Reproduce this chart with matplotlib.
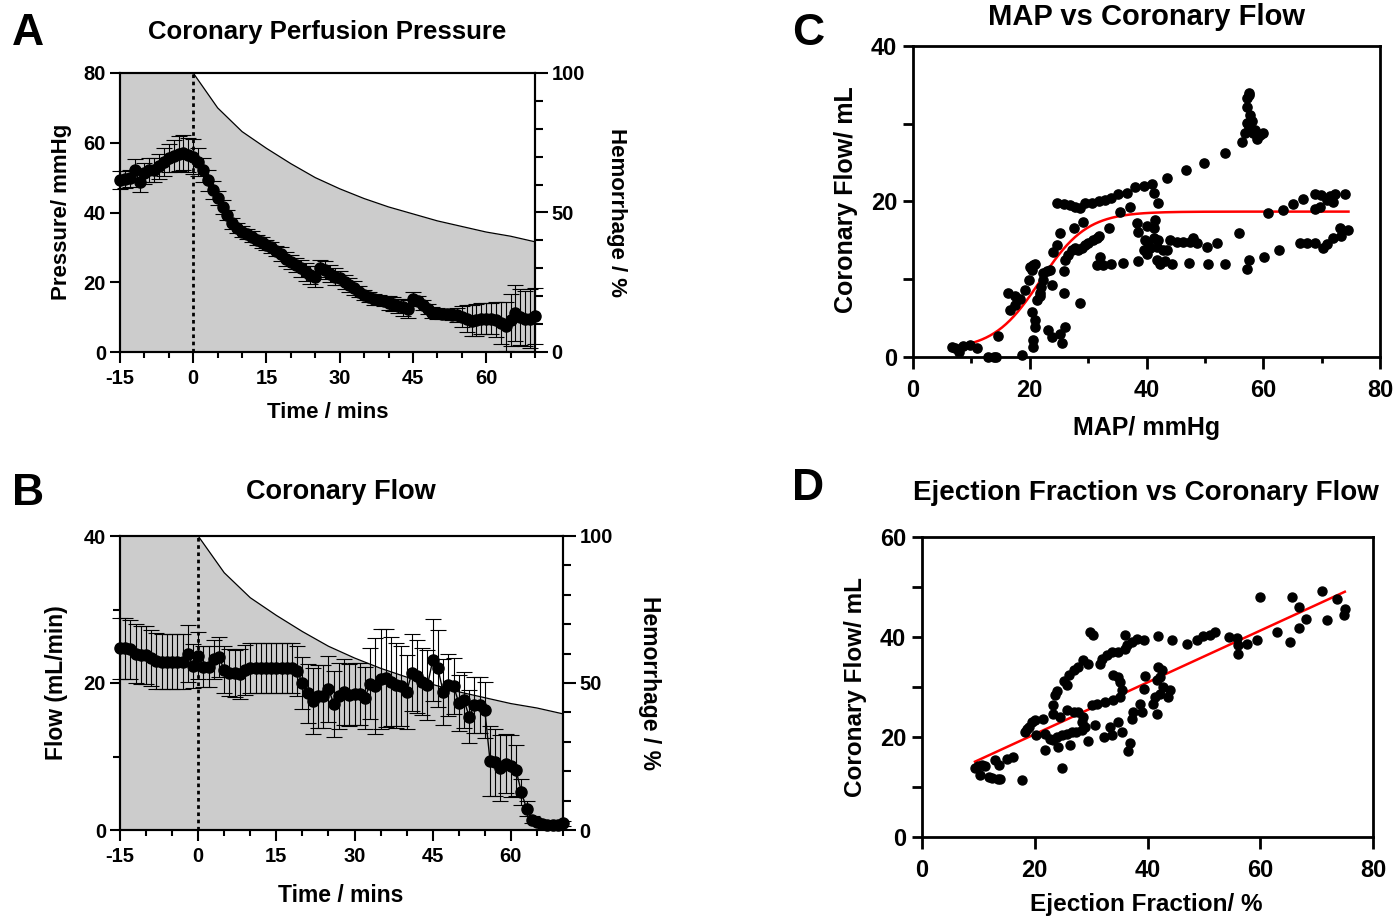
import numpy as np
import matplotlib
matplotlib.use("Agg")
import matplotlib.pyplot as plt
from matplotlib.ticker import MultipleLocator

plt.rcParams['font.family'] = ['Liberation Sans', 'DejaVu Sans']
plt.rcParams['font.weight'] = 'bold'
plt.rcParams['axes.linewidth'] = 1.5
plt.rcParams['axes.unicode_minus'] = False

# ---- data -------------------------------------------------------------
time_min = np.arange(-15, 71)

cpp_mean = [49.3, 49.5, 49.8, 52.2, 48.8, 51.3, 52.2, 52.2, 53.2, 54.6, 55.5, 56.2, 56.9, 57.1, 56.5, 56.0,
            54.6, 52.2, 49.3, 46.4, 44.1, 41.7, 39.3, 36.9, 35.5, 34.5,
            33.8, 33.1, 32.1, 31.4, 30.7, 30.0, 29.0, 28.0, 26.8, 25.9,
            24.9, 24.0, 23.0, 22.1, 21.6, 24.0, 23.5, 22.5, 21.6, 21.1,
            20.2, 19.2, 18.3, 17.3, 16.4, 15.7, 15.1, 14.9, 14.7, 14.1,
            13.8, 13.2, 12.8, 12.3, 15.1, 14.7, 13.5, 12.3, 11.3, 11.1,
            10.9, 10.9, 10.6, 10.6, 10.1, 9.6, 9.0, 9.2, 9.6, 9.6,
            9.6, 9.2, 8.2, 7.4, 9.2, 11.1, 10.1, 9.6, 9.6, 10.3]
cpp_err = [2.5, 2.5, 2.5, 3, 3, 3, 3.5, 3.5, 3.5, 4, 4, 4.5, 5, 5, 5, 5,
           4, 3.5, 3, 2.5, 2, 2, 1.5, 1.5, 1.5, 1.5,
           1.5, 1.5, 1.5, 1.5, 1.5, 1.5, 1.5, 2, 2, 2,
           2, 2.5, 2.5, 2.5, 3, 2.5, 2.5, 2.5, 2.5, 2,
           2, 2, 2, 1.5, 1.5, 1.5, 1.5, 1.5, 1.5, 2,
           2, 2, 2.5, 2.5, 2, 1.5, 1.5, 1.5, 1.5, 1.5,
           1.5, 1.5, 1.5, 2, 3, 4, 4.5, 4.5, 4.5, 4.5,
           4.5, 5, 6, 7, 7.5, 8, 8, 8, 8.5, 8]

flow_mean = [24.7, 24.7, 24.6, 24.0, 23.8, 23.8, 23.4, 23.0, 22.9, 22.9, 22.9, 22.9, 22.9, 24.0, 22.3, 23.7,
             22.2, 22.2, 23.2, 23.5, 21.8, 21.4, 21.3, 21.2, 21.8, 22.0,
             22.0, 22.0, 22.0, 22.0, 22.0, 22.0, 22.0, 22.0, 21.6, 20.0,
             18.6, 17.5, 18.2, 18.2, 19.2, 17.2, 18.2, 18.8, 18.4, 18.5,
             18.5, 18.0, 19.9, 19.6, 20.6, 20.7, 20.2, 19.7, 19.6, 18.8,
             21.4, 20.9, 20.2, 19.7, 23.1, 22.0, 18.8, 19.7, 19.6, 17.3,
             17.7, 15.4, 17.0, 17.0, 16.3, 9.4, 9.2, 8.4, 9.0, 8.7,
             8.1, 5.2, 2.9, 1.4, 1.1, 0.8, 0.7, 0.7, 0.7, 0.9]
flow_err = [4.2, 4.2, 4.0, 4.0, 3.9, 3.9, 3.8, 3.8, 3.7, 3.7, 3.7, 3.7, 3.7, 3.9, 3.0, 3.2,
            2.8, 2.8, 2.7, 2.7, 3.2, 3.2, 3.2, 3.4, 3.4, 3.4,
            3.4, 3.4, 3.4, 3.4, 3.4, 3.4, 3.4, 3.4, 3.4, 3.6,
            4.0, 4.5, 4.3, 4.3, 4.5, 4.5, 4.5, 4.5, 4.2, 4.2,
            4.2, 4.2, 4.8, 6.5, 6.8, 6.7, 6.0, 5.8, 5.5, 5.0,
            5.2, 5.0, 4.5, 4.8, 5.6, 5.2, 4.5, 4.2, 3.8, 3.8,
            3.8, 3.6, 3.8, 3.8, 3.8, 4.8, 4.6, 4.5, 4.0, 4.2,
            3.5, 1.8, 1.0, 0.5, 0.4, 0.3, 0.3, 0.3, 0.3, 0.3]

hem_time = [-15, 0, 5, 10, 15, 20, 25, 30, 35, 40, 45, 50, 55, 60, 65, 70]
hem_pct = [100, 100, 87.5, 79, 73, 67.5, 62.5, 58.5, 55, 52, 49.5, 47, 45, 43, 41.5, 39.5]

map_x = [6.6, 7.2, 7.8, 8.6, 9.8, 10.9, 12.9, 13.8, 14.3, 14.5, 18.6, 16.3, 17.5, 18.3, 16.6, 17.5,
         19.2, 19.8, 20.3, 20.6, 20.1, 20.9, 20.3, 20.9, 20.9, 20.6, 20.6, 21.8, 22.0, 22.3, 22.3,
         22.9, 23.5, 23.8, 21.2, 21.8, 23.2, 23.8, 25.2, 25.5, 26.0, 25.8, 25.8, 24.0, 24.6, 25.2,
         26.0, 26.6, 27.2, 27.8, 28.3, 28.9, 29.5, 30.0, 30.9, 31.5, 31.8, 27.5, 29.1, 28.6,
         24.6, 25.8, 26.9, 27.8, 28.6, 29.5, 30.6, 31.8, 32.9, 34.0, 35.2, 36.6, 38.0, 39.5, 40.9,
         41.2, 42.0, 43.5, 46.8, 49.9, 53.5, 56.3,
         56.9, 57.2, 57.2, 57.2, 57.5, 57.6, 57.7, 58.0, 57.5, 58.3, 58.9, 59.5, 60.0, 58.6,
         32.0, 32.6, 31.5, 34.0, 36.0, 38.6, 33.5, 35.5, 37.2, 38.3, 38.6, 40.0, 41.2, 41.5,
         39.8, 40.3, 41.2, 41.8, 39.5, 40.0, 40.6, 42.0, 42.9, 43.5, 41.8, 42.3, 43.2, 44.3,
         47.2, 50.6, 53.5, 44.0, 45.2, 46.3, 47.5, 48.6, 48.0, 50.4, 52.0, 55.9, 57.5, 57.2,
         60.2, 62.7, 60.8, 63.3, 65.1, 66.8, 68.9, 69.9, 71.5, 72.3, 74.0, 70.9, 72.0, 68.9, 69.7,
         66.3, 67.5, 68.9, 70.3, 70.9, 72.0, 73.2, 74.6, 73.4]
cflow_y = [1.3, 1.1, 0.7, 1.4, 1.5, 1.2, 0.0, 0.0, 0.0, 2.7, 0.3, 8.2, 7.8, 7.5, 6.0, 6.7,
           8.6, 9.9, 11.2, 11.8, 11.6, 12.0, 5.8, 4.8, 3.9, 2.2, 1.3, 8.2, 9.0, 9.9, 10.8,
           11.0, 11.2, 9.3, 7.3, 7.8, 3.5, 2.6, 3.0, 1.8, 3.9, 8.2, 11.0, 13.5, 14.4, 15.9,
           12.5, 13.1, 13.8, 14.0, 13.8, 14.0, 14.4, 14.6, 15.0, 15.3, 15.5, 16.6, 17.4, 6.9,
           19.8, 19.7, 19.5, 19.3, 19.1, 19.8, 19.8, 20.0, 20.2, 20.4, 21.0, 21.1, 21.9, 22.0, 22.3,
           21.1, 19.8, 23.0, 24.1, 25.0, 26.3, 27.6,
           28.8, 30.1, 32.2, 33.3, 33.7, 33.9, 31.1, 30.3, 29.4, 28.8, 28.1, 28.6, 28.8, 29.2,
           12.9, 11.8, 11.8, 12.0, 12.1, 12.3, 16.6, 18.7, 19.3, 17.2, 16.1, 16.8, 16.6, 17.6,
           15.0, 14.6, 15.3, 14.2, 13.8, 13.3, 14.0, 15.0, 13.8, 13.8, 12.5, 12.0, 12.3, 12.0,
           12.1, 12.0, 12.0, 15.0, 14.8, 14.8, 14.8, 14.6, 15.3, 14.2, 14.6, 15.9, 12.5, 11.3,
           12.9, 13.7, 18.5, 18.9, 19.7, 20.3, 21.0, 20.8, 20.7, 21.0, 21.0, 20.2, 19.9, 19.0, 19.3,
           14.7, 14.7, 14.6, 14.0, 14.5, 15.3, 16.6, 16.3, 15.5]

# four-parameter logistic fit (bottom, top, midpoint, width)
sig_bottom, sig_top, sig_mid, sig_width = 0.9, 18.7, 21.8, 4.0

ef_x = [9.4, 10.0, 10.6, 11.2, 10.3, 11.8, 12.4, 13.5, 13.8, 13.0, 13.7, 15.0, 16.2, 17.7, 24.9,
        18.3, 18.9, 19.5, 20.1, 18.6, 20.3, 21.5, 21.8, 21.8, 22.7, 23.3, 24.2, 23.9, 24.8, 25.7,
        26.6, 27.4, 28.3, 28.9, 26.3, 29.5, 28.6, 28.3, 27.7, 26.9, 25.7, 24.5, 23.3, 23.3, 23.6,
        23.9, 25.1, 26.0, 25.7, 26.9, 27.7, 28.6, 29.5, 29.8, 30.3, 31.6, 31.9, 32.8, 33.7, 34.8,
        36.0, 36.3, 37.2, 38.1, 39.3, 36.0, 30.1, 31.0, 32.5, 33.9, 35.1, 35.4, 35.1, 34.8, 33.9,
        33.4, 33.7, 34.8, 35.4, 32.2, 30.7, 36.9, 36.6, 37.2, 37.5, 38.7, 39.0, 39.3, 39.6, 41.6,
        41.0, 41.3, 42.2, 42.8, 43.7, 44.0, 42.2, 42.5, 41.9, 41.6,
        41.9, 44.3, 47.0, 48.7, 49.9, 51.1, 52.0, 54.4, 55.8, 56.1, 56.1, 57.6, 59.4, 60.0, 62.9,
        65.3, 65.6, 66.8, 66.8, 68.2, 71.0, 71.8, 73.6, 74.8, 75.0]
ef_flow = [13.9, 14.2, 14.4, 14.2, 12.4, 12.1, 11.9, 11.7, 11.7, 15.4, 14.4, 15.7, 16.1, 11.4, 13.9,
           21.1, 22.1, 23.1, 23.4, 21.7, 20.4, 23.7, 20.7, 17.4, 19.7, 19.4, 18.1, 20.1, 20.4, 20.7,
           21.1, 21.1, 21.4, 22.1, 18.4, 19.3, 24.1, 23.1, 25.1, 25.1, 25.4, 24.1, 24.7, 26.4, 28.4,
           29.3, 31.3, 32.4, 30.4, 33.4, 34.1, 35.4, 34.7, 41.1, 40.4, 34.7, 35.7, 36.4, 37.1, 37.1,
           37.7, 38.4, 39.1, 39.7, 39.4, 40.4, 26.4, 26.7, 27.1, 27.4, 28.1, 29.4, 31.1, 32.1, 32.4,
           22.1, 20.4, 23.1, 21.1, 20.1, 22.4, 18.9, 17.3, 23.7, 25.1, 26.7, 25.1, 29.7, 32.3, 24.7,
           26.7, 28.1, 28.7, 30.1, 28.1, 29.4, 32.1, 33.4, 34.1, 31.4,
           40.2, 39.4, 38.7, 39.4, 40.2, 40.4, 41.1, 40.1, 39.9, 38.4, 36.7, 38.7, 39.4, 48.1, 41.1,
           39.1, 48.1, 46.1, 41.9, 43.7, 49.2, 43.4, 47.7, 44.4, 45.7]

# linear fit
lin_slope, lin_intercept = 0.518, 10.2

# ---- layout helpers ---------------------------------------------------
W, H = 1395, 918
fig = plt.figure(figsize=(W / 100, H / 100), dpi=100)


def box(l, t, r, b):
    return [l / W, 1 - b / H, (r - l) / W, (b - t) / H]


def ftext(x, y, s, size, **kw):
    fig.text(x / W, 1 - y / H, s, fontsize=size, fontweight='bold', **kw)


def time_panel(rect, mean, err, ymax, ymajor, yminor):
    ax = fig.add_axes(rect)
    ax2 = ax.twinx()
    ax2.fill_between(hem_time, hem_pct, 0, color='#cccccc', lw=0)
    ax2.plot(hem_time[1:], hem_pct[1:], color='black', lw=0.9)
    ax2.set_ylim(0, 100)
    ax2.set_yticks([0, 50, 100])
    ax2.yaxis.set_minor_locator(MultipleLocator(10))
    ax2.tick_params(axis='y', which='major', length=9, width=1.5, labelsize=14.5, pad=3)
    ax2.tick_params(axis='y', which='minor', length=6, width=1.5)
    for sp in ax2.spines.values():
        sp.set_linewidth(1.5)

    ax.set_zorder(ax2.get_zorder() + 1)
    ax.patch.set_visible(False)
    ax.axvline(0, color='black', ls=(0, (1.3, 1.3)), lw=2)
    ax.errorbar(time_min, mean, yerr=err, fmt='o-', color='black', ms=8, lw=1,
                ecolor='black', elinewidth=0.8, capsize=6, capthick=0.8, clip_on=False)
    ax.set_xlim(-15, 70)
    ax.set_ylim(0, ymax)
    ax.set_xticks([-15, 0, 15, 30, 45, 60])
    ax.xaxis.set_minor_locator(MultipleLocator(5))
    ax.set_yticks(ymajor)
    ax.set_yticks(yminor, minor=True)
    ax.tick_params(axis='x', which='major', length=8, width=1.5, labelsize=14.5, pad=4)
    ax.tick_params(axis='x', which='minor', length=4.5, width=1.5)
    ax.tick_params(axis='y', which='major', length=7, width=1.5, labelsize=14.5, pad=3)
    ax.tick_params(axis='y', which='minor', length=5, width=1.5)
    return ax


def scatter_panel(rect, xmax, ymax):
    ax = fig.add_axes(rect)
    for sp in ax.spines.values():
        sp.set_linewidth(2)
    ax.set_xlim(0, xmax)
    ax.set_ylim(0, ymax)
    ax.tick_params(which='both', width=2, labelsize=17)
    ax.tick_params(axis='y', which='both', length=7.5, pad=4)
    ax.tick_params(axis='x', which='major', length=8.5, pad=7)
    ax.tick_params(axis='x', which='minor', length=4)
    return ax


# ---- A ----------------------------------------------------------------
time_panel(box(120, 73, 535, 352), cpp_mean, cpp_err, 80, [0, 20, 40, 60, 80], [])
ftext(12, 45, 'A', 32, va='baseline')
ftext(327, 39, 'Coronary Perfusion Pressure', 18.5, ha='center', va='baseline')
ftext(62, 212, 'Pressure/ mmHg', 16, ha='center', va='center', rotation=90)
ftext(328, 412, 'Time / mins', 16, ha='center', va='center')
ftext(617, 212, 'Hemorrhage / %', 16, ha='center', va='center', rotation=270)

# ---- B ----------------------------------------------------------------
time_panel(box(120, 536, 563, 830), flow_mean, flow_err, 40, [0, 20, 40], [10, 30])
ftext(12, 505, 'B', 32, va='baseline')
ftext(341, 499, 'Coronary Flow', 19.5, ha='center', va='baseline')
ftext(56, 683, 'Flow (mL/min)', 16.5, ha='center', va='center', rotation=90)
ftext(341, 895, 'Time / mins', 16.5, ha='center', va='center')
ftext(650, 683, 'Hemorrhage / %', 16.5, ha='center', va='center', rotation=270)

# ---- C ----------------------------------------------------------------
axc = scatter_panel(box(913, 46, 1380, 357), 80, 40)
axc.scatter(map_x, cflow_y, s=44, color='black', zorder=3, clip_on=False)
xs = np.linspace(min(map_x), max(map_x), 300)
axc.plot(xs, sig_bottom + (sig_top - sig_bottom) / (1 + np.exp((sig_mid - xs) / sig_width)),
         color='red', lw=1.8, zorder=2)
axc.set_xticks([0, 20, 40, 60, 80])
axc.set_xticks([10, 30, 50, 70], minor=True)
axc.set_yticks([0, 20, 40])
axc.set_yticks([10, 30], minor=True)
ftext(792, 45, 'C', 32, va='baseline')
ftext(1147, 25, 'MAP vs Coronary Flow', 21, ha='center', va='baseline')
ftext(846, 200, 'Coronary Flow/ mL', 18, ha='center', va='center', rotation=90)
ftext(1147, 428, 'MAP/ mmHg', 18, ha='center', va='center')

# ---- D ----------------------------------------------------------------
axd = scatter_panel(box(922, 537, 1373, 837), 80, 60)
axd.scatter(ef_x, ef_flow, s=42, color='black', zorder=3, clip_on=False)
xl = np.array([min(ef_x), max(ef_x)])
axd.plot(xl, lin_slope * xl + lin_intercept, color='red', lw=1.8, zorder=2)
axd.set_xticks([0, 20, 40, 60, 80])
axd.set_yticks([0, 20, 40, 60])
axd.set_yticks([10, 30, 50], minor=True)
ftext(792, 500, 'D', 32, va='baseline')
ftext(1146, 500, 'Ejection Fraction vs Coronary Flow', 20, ha='center', va='baseline')
ftext(856, 687, 'Coronary Flow/ mL', 17.5, ha='center', va='center', rotation=90)
ftext(1146, 904, 'Ejection Fraction/ %', 17.5, ha='center', va='center')

fig.savefig('out.png', dpi=100)
